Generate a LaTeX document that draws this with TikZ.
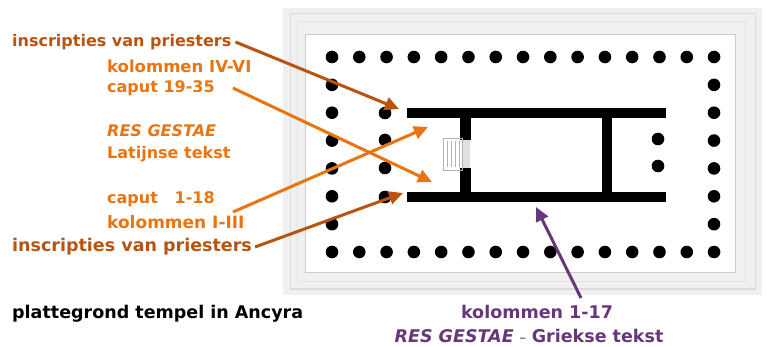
\documentclass[tikz,border=0pt]{standalone}
\usepackage{fontspec}
\setmainfont{DejaVu Sans}
\usepackage{xcolor}
\definecolor{ancorange}{RGB}{232, 117, 17}
\definecolor{ancbrown}{RGB}{184, 84, 16}
\definecolor{ancpurple}{RGB}{102, 55, 122}
\usepackage{tikz}
\usetikzlibrary{arrows.meta, positioning, calc}

\tikzset{
    lbl/.style={font=\bfseries\fontsize{16}{18}\selectfont, anchor=west, inner sep=0pt},
    grootlbl/.style={lbl, font=\bfseries\fontsize{17.5}{20}\selectfont},
    pijl/.style={line width=3pt, -{Triangle[length=14pt,width=13pt]}},
    zuil/.style={fill=black},
    muur/.style={fill=black}
}

\begin{document}
\begin{tikzpicture}[x=1pt, y=-1pt]
    \useasboundingbox (0,0) rectangle (768,347);

    % frame
    \fill[gray!12] (283,8) rectangle (762,295);
    \draw[gray!28, line width=1pt] (290,14) rectangle (755,289);
    \draw[gray!22, line width=1pt] (297,22) rectangle (745,282);
    \fill[white] (305,35) rectangle (735,273);
    \draw[gray!40, line width=1pt] (305,35) rectangle (735,273);

    % columns
    \foreach \i in {0,...,14} {
        \fill[zuil] (332+\i*27.29,57) circle (6.3);
        \fill[zuil] (332+\i*27.29,252) circle (6.3);
    }
    \foreach \j in {1,...,6} {
        \fill[zuil] (332,57+\j*27.86) circle (6.3);
        \fill[zuil] (714,57+\j*27.86) circle (6.3);
    }
    \foreach \y in {113,140,168,197} {
        \fill[zuil] (385,\y) circle (6.3);
    }
    \foreach \y in {139,166} {
        \fill[zuil] (658,\y) circle (6.3);
    }

    % walls
    \fill[muur] (407,108) rectangle (666,118);
    \fill[muur] (407,192) rectangle (666,202);
    \fill[muur] (460,113) rectangle (471,140);
    \fill[muur] (460,168) rectangle (471,197);
    \fill[muur] (602,113) rectangle (612,197);

    % stairs
    \fill[gray!25] (462,140) rectangle (470,168);
    \draw[gray!60, line width=0.6pt] (443,138) rectangle (462,170);
    \foreach \x in {447,451,455,459} {
        \draw[gray!60, line width=0.6pt] (\x,141) -- (\x,167);
    }

    % labels
    \node[lbl, text=ancbrown] (priesterA) at (12,42) {inscripties van priesters};
    \node[lbl, text=ancorange, font=\bfseries\fontsize{16.5}{18}\selectfont] (kolomB) at (107,66) {kolommen IV-VI};
    \node[lbl, text=ancorange] (caputB) at (107,88) {caput 19-35};
    \node[lbl, text=ancorange] (resLat) at (107,131) {\itshape RES GESTAE};
    \node[lbl, text=ancorange] (latTekst) at (107,154) {Latijnse tekst};
    \node[lbl, text=ancorange] (caputA) at (107,199) {caput\ \ \ 1-18};
    \node[lbl, text=ancorange, font=\bfseries\fontsize{17}{18}\selectfont] (kolomA) at (107,222) {kolommen I-III};
    \node[grootlbl, text=ancbrown] (priesterB) at (12,247) {inscripties van priesters};
    \node[grootlbl] (plan) at (12,314) {plattegrond tempel in Ancyra};
    \node[grootlbl, text=ancpurple, anchor=center] (kolomGr) at (537,312) {kolommen 1-17};
    \node[grootlbl, text=ancpurple, anchor=center] (grTekst) at (529,336) {\itshape RES GESTAE\/\normalfont\ {\fontsize{14}{16}\selectfont --} \bfseries Griekse tekst};

    % targets
    \coordinate (tA) at (399,109);
    \coordinate (tB) at (432,182);
    \coordinate (tC) at (428,127);
    \coordinate (tD) at (403,193);
    \coordinate (tE) at (536,207);
    \coordinate (sC) at (233,212);
    \coordinate (sE) at (581,298);

    % arrows
    \draw[pijl, ancbrown] ($(priesterA.east)+(4,0)$) -- (tA);
    \draw[pijl, ancorange] ($(caputB.east)+(18,0)$) -- (tB);
    \draw[pijl, ancorange] (sC) -- (tC);
    \draw[pijl, ancbrown] ($(priesterB.east)+(3,0)$) -- (tD);
    \draw[pijl, ancpurple] (sE) -- (tE);
\end{tikzpicture}
\end{document}
